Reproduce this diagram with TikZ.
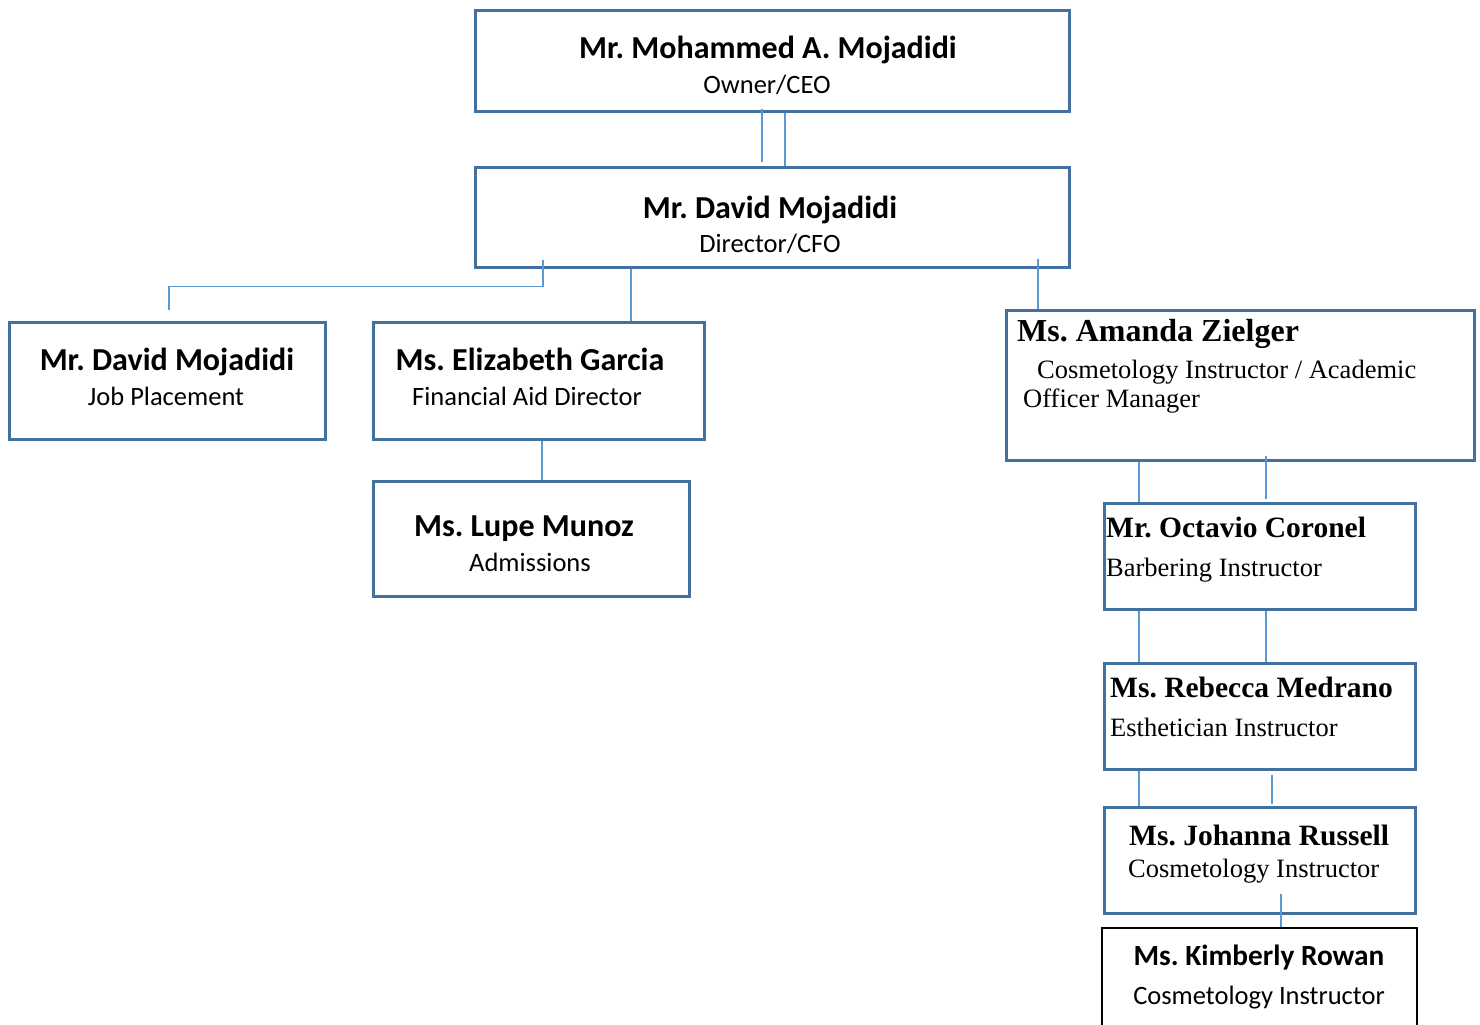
\documentclass[tikz,border=0pt]{standalone}
\usepackage{fontspec}
\setmainfont{Liberation Serif}
\newfontfamily\calibri{Carlito}
\usetikzlibrary{positioning}
\frenchspacing

\definecolor{boxblue}{RGB}{65,113,156}
\definecolor{linkblue}{RGB}{91,155,213}

\begin{document}
\begin{tikzpicture}[
    x=1pt, y=-1pt,
    box/.style={draw=boxblue, line width=3pt, inner sep=0pt},
    link/.style={draw=linkblue, line width=1.3pt},
    sname/.style={font=\calibri\bfseries\fontsize{32}{38}\selectfont, inner sep=0pt, anchor=base},
    srole/.style={font=\calibri\fontsize{26.5}{31}\selectfont, inner sep=0pt, anchor=base},
    tname/.style={font=\bfseries\fontsize{29.5}{35}\selectfont, inner sep=0pt, anchor=base west},
    trole/.style={font=\fontsize{26.5}{31}\selectfont, inner sep=0pt, anchor=base west}
]
    \useasboundingbox (0,0) rectangle (1480,1025);

    % Direcao
    \node[box, minimum width=594pt, minimum height=100pt] (ceo) at (772,61) {};
    \node[sname] (ceo-name) at (768,59) {Mr. Mohammed A. Mojadidi};
    \node[srole] (ceo-role) at (767,93) {Owner/CEO};

    \node[box, minimum width=594pt, minimum height=100pt] (dir) at (772,217) {};
    \node[sname] (dir-name) at (770,218) {Mr. David Mojadidi};
    \node[srole] (dir-role) at (770,252) {Director/CFO};

    % Escritorio
    \node[box, minimum width=316pt, minimum height=117pt] (job) at (167,380.5) {};
    \node[sname] (job-name) at (167,370) {Mr. David Mojadidi};
    \node[srole] (job-role) at (166,405) {Job Placement};

    \node[box, minimum width=331pt, minimum height=117pt] (garcia) at (538.5,380.5) {};
    \node[sname] (garcia-name) at (530,370) {Ms. Elizabeth Garcia};
    \node[srole] (garcia-role) at (527,405) {Financial Aid Director};

    \node[box, minimum width=316pt, minimum height=115pt] (munoz) at (531,538.5) {};
    \node[sname] (munoz-name) at (524,536) {Ms. Lupe Munoz};
    \node[srole] (munoz-role) at (530,571) {Admissions};

    % Instrutores
    \node[box, minimum width=468pt, minimum height=150pt] (zielger) at (1240,385) {};
    \node[tname, font=\bfseries\fontsize{32}{38}\selectfont] (zielger-name) at (1017,341) {Ms. Amanda Zielger};
    \node[trole] (zielger-role) at (1037,378) {Cosmetology Instructor / Academic};
    \node[trole] (zielger-role2) at (1023,407) {Officer Manager};

    \node[box, minimum width=311pt, minimum height=106pt] (coronel) at (1259.5,556) {};
    \node[tname] (coronel-name) at (1106,537) {Mr. Octavio Coronel};
    \node[trole] (coronel-role) at (1106,576) {Barbering Instructor};

    \node[box, minimum width=311pt, minimum height=106pt] (medrano) at (1259.5,716) {};
    \node[tname] (medrano-name) at (1110,697) {Ms. Rebecca Medrano};
    \node[trole] (medrano-role) at (1110,736) {Esthetician Instructor};

    \node[box, minimum width=311pt, minimum height=106pt] (russell) at (1259.5,860) {};
    \node[tname] (russell-name) at (1129,845) {Ms. Johanna Russell};
    \node[trole] (russell-role) at (1128,877) {Cosmetology Instructor};

    \node[draw, line width=1.4pt, inner sep=0pt, minimum width=315pt, minimum height=102pt] (rowan) at (1259.5,979) {};
    \node[sname, font=\calibri\bfseries\fontsize{29.3}{35}\selectfont] (rowan-name) at (1259,965) {Ms. Kimberly Rowan};
    \node[srole] (rowan-role) at (1259,1004) {Cosmetology Instructor};

    % Ligacoes
    \draw[link] ([xshift=-10pt,yshift=4pt]ceo.south) -- ([xshift=-10pt,yshift=4pt]dir.north);
    \draw[link] ([xshift=13pt]ceo.south) -- ([xshift=13pt]dir.north);

    \draw[link] ([xshift=-229pt,yshift=9pt]dir.south) -- ++(0,27) -| ([xshift=2pt,yshift=11pt]job.north);
    \draw[link] ([xshift=-141pt]dir.south) -- ([xshift=92.5pt]garcia.north);
    \draw[link] ([xshift=266pt,yshift=10pt]dir.south) -- ([xshift=-202pt]zielger.north);
    \draw[link] ([xshift=3.5pt]garcia.south) -- ([xshift=11pt]munoz.north);

    \draw[link] ([xshift=-101pt]zielger.south) -- ([xshift=-120.5pt]coronel.north);
    \draw[link] ([xshift=26pt,yshift=6pt]zielger.south) -- ([xshift=6.5pt,yshift=3pt]coronel.north);
    \draw[link] ([xshift=-120.5pt]coronel.south) -- ([xshift=-120.5pt]medrano.north);
    \draw[link] ([xshift=6.5pt]coronel.south) -- ([xshift=6.5pt]medrano.north);
    \draw[link] ([xshift=-120.5pt]medrano.south) -- ([xshift=-120.5pt]russell.north);
    \draw[link] ([xshift=12.5pt,yshift=-4pt]medrano.south) -- ([xshift=12.5pt,yshift=2pt]russell.north);
    \draw[link] ([xshift=21.5pt,yshift=21pt]russell.south) -- ([xshift=21.5pt]rowan.north);

\end{tikzpicture}
\end{document}
